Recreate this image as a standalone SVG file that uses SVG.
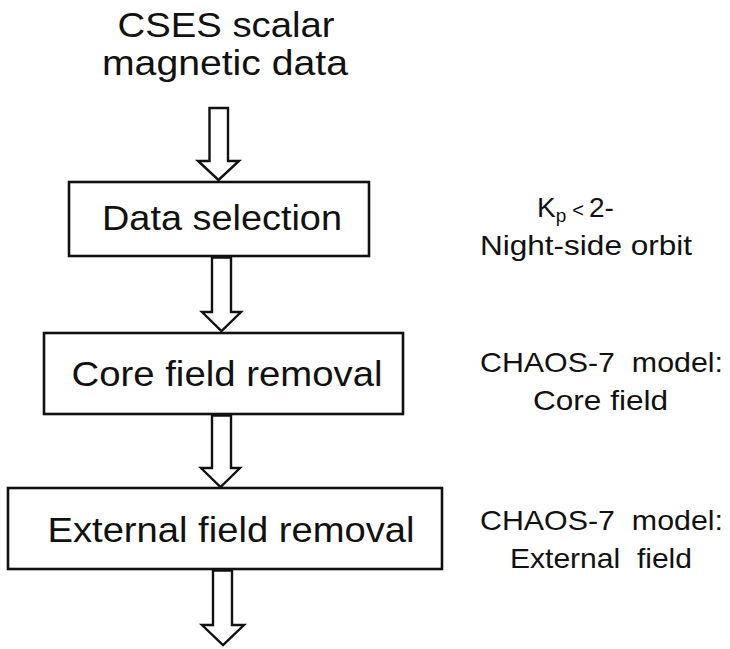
<svg xmlns="http://www.w3.org/2000/svg" width="730" height="649" viewBox="0 0 730 649">
<style>
text{font-family:"Liberation Sans",Arial,sans-serif;fill:#111;}
.box{fill:#fff;stroke:#111;stroke-width:2.6;}
.arr{fill:#fff;stroke:#111;stroke-width:2.4;stroke-linejoin:miter;}
.big{font-size:35px;}
.note{font-size:28px;}
</style>
<rect width="730" height="649" fill="#fff"/>
<g id="connectors">
<polygon class="arr" points="209.5,108 228,108 228,161 239,161 218.5,180 198,161 209.5,161"/>
<polygon class="arr" points="212,257.5 231,257.5 231,312 241,312 221.5,331 202,312 212,312"/>
<polygon class="arr" points="212,415.5 231,415.5 231,468 240,468 220.5,487 201,468 212,468"/>
<polygon class="arr" points="213,570.5 232,570.5 232,625 244,625 223,645 202,625 213,625"/>
</g>
<g id="node-start">
<text class="big" x="226" y="37" text-anchor="middle" textLength="217" lengthAdjust="spacingAndGlyphs">CSES scalar</text>
<text class="big" x="225" y="75" text-anchor="middle" textLength="246" lengthAdjust="spacingAndGlyphs">magnetic data</text>
</g>
<g id="node-selection">
<rect class="box" x="69" y="182" width="300" height="74"/>
<text class="big" x="222" y="230" text-anchor="middle" textLength="240" lengthAdjust="spacingAndGlyphs">Data selection</text>
</g>
<g id="node-core">
<rect class="box" x="44" y="333" width="359" height="81"/>
<text class="big" x="227" y="386" text-anchor="middle" textLength="311" lengthAdjust="spacingAndGlyphs">Core field removal</text>
</g>
<g id="node-external">
<rect class="box" x="8" y="488" width="434" height="81"/>
<text class="big" x="231" y="542" text-anchor="middle" textLength="367" lengthAdjust="spacingAndGlyphs">External field removal</text>
</g>
<g id="label-selection">
<text class="note" x="537" y="217">K<tspan font-size="19" dy="5">p</tspan><tspan font-size="20" dy="-5" dx="6">&lt;</tspan><tspan dx="5">2-</tspan></text>
<text class="note" x="480" y="255" textLength="212" lengthAdjust="spacingAndGlyphs">Night-side  orbit</text>
</g>
<g id="label-core">
<text class="note" x="480" y="372" textLength="243" lengthAdjust="spacingAndGlyphs" xml:space="preserve">CHAOS-7  model:</text>
<text class="note" x="533" y="410" textLength="135" lengthAdjust="spacingAndGlyphs">Core field</text>
</g>
<g id="label-external">
<text class="note" x="480" y="530" textLength="243" lengthAdjust="spacingAndGlyphs" xml:space="preserve">CHAOS-7  model:</text>
<text class="note" x="510" y="568" textLength="182" lengthAdjust="spacingAndGlyphs" xml:space="preserve">External  field</text>
</g>
</svg>
